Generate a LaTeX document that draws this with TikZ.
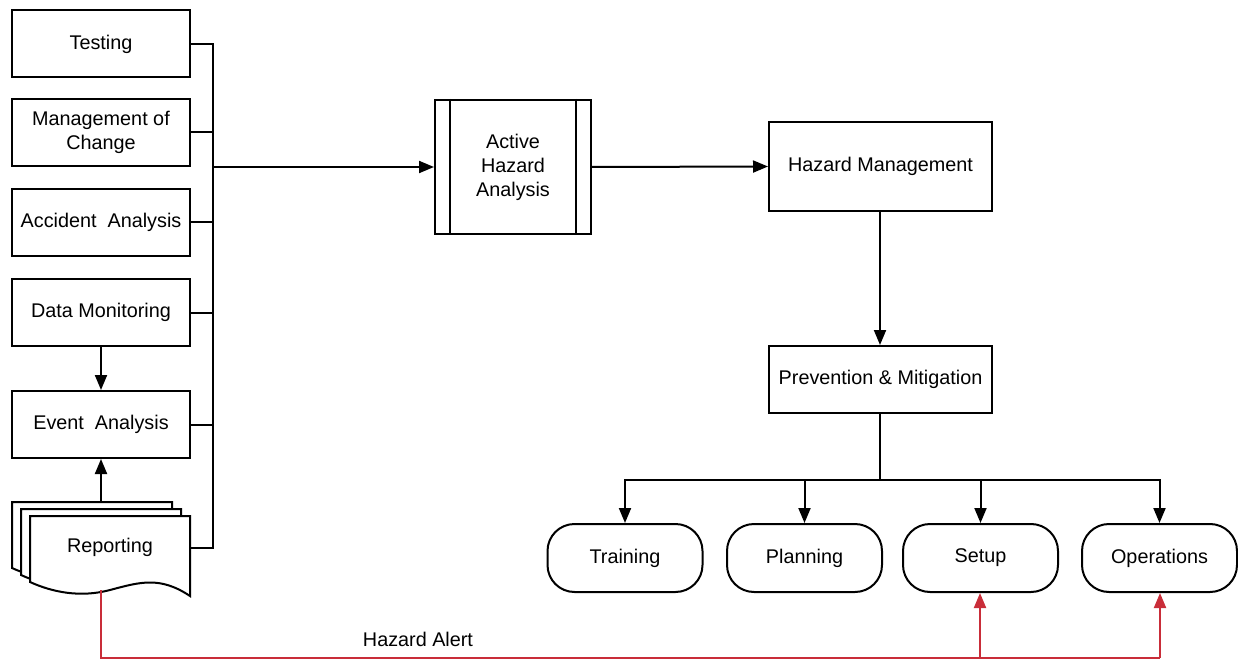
\documentclass[tikz,border=0pt]{standalone}
\usepackage{fontspec}
\setmainfont{Liberation Sans}
\usetikzlibrary{arrows.meta}
\definecolor{alertred}{RGB}{201,45,57}
\tikzset{
  every node/.style={font=\fontsize{19.8}{24}\selectfont},
  box/.style={draw, line width=2pt, fill=white, align=center, inner sep=0pt},
  lbox/.style={box, minimum width=178pt, minimum height=67pt},
  term/.style={draw, line width=2pt, rounded corners=27pt, minimum width=155pt, minimum height=68pt, inner sep=0pt},
  conn/.style={line width=2pt},
  arr/.style={conn, -{Triangle[length=15pt,width=12pt]}},
  redarr/.style={line width=2pt, draw=alertred, -{Triangle[length=15pt,width=12pt]}},
}
\newcommand{\docshape}[2]{%
  \draw[line width=2pt, fill=white] (#1,#2) -- ++(160,0) -- ++(0,80)
    .. controls ++(-30,-20) and ++(30,-8) .. ++(-80,-6)
    .. controls ++(-30,8) and ++(22,10) .. ++(-80,-8) -- cycle;}
\begin{document}
\begin{tikzpicture}[x=1pt,y=-1pt]
\useasboundingbox (0,0) rectangle (1238,660);
% left column
\node[lbox] (test) at (101,44) {Testing};
\node[lbox] (moc) at (101,132.5) {Management of\\Change};
\node[lbox] (acc) at (101,222.5) {Accident~ Analysis};
\node[lbox] (dm) at (101,312.5) {Data Monitoring};
\node[lbox] (ev) at (101,424.5) {Event~ Analysis};
% reporting multi-document
\docshape{12}{502}
\docshape{21}{509}
\docshape{30}{516}
\node (rep) at (110,547) {Reporting};
\coordinate (reptop) at (101,502);
\coordinate (repright) at (190,548);
\coordinate (repbot) at (101,590);
% bus
\coordinate (bustop) at (213,44);
\coordinate (busbot) at (213,548);
\coordinate (busmid) at (213,167);
\draw[conn] (test.east) -- (bustop) -- (busbot) -- (repright);
\draw[conn] (moc.east) -- (moc.east -| bustop);
\draw[conn] (acc.east) -- (acc.east -| bustop);
\draw[conn] (dm.east) -- (dm.east -| bustop);
\draw[conn] (ev.east) -- (ev.east -| bustop);
\draw[arr] (dm.south) -- (ev.north);
\draw[arr] (reptop) -- (ev.south);
% active hazard analysis
\node[box, minimum width=156pt, minimum height=134pt] (aha) at (513,167) {Active\\Hazard\\Analysis};
\draw[conn] ([xshift=16pt]aha.north west) -- ([xshift=16pt]aha.south west);
\draw[conn] ([xshift=-16pt]aha.north east) -- ([xshift=-16pt]aha.south east);
\draw[arr] (busmid) -- (aha.west);
% hazard management
\node[box, minimum width=223pt, minimum height=89pt] (hm) at (880.5,166.5) {Hazard Management};
\draw[arr] (aha.east) -- (hm.west);
\node[box, minimum width=223pt, minimum height=67pt] (pm) at (880.5,379.5) {Prevention \& Mitigation};
\draw[arr] (hm.south -| 880,0) -- (pm.north -| 880,0);
% terminals
\node[term] (tr) at (625,558) {Training};
\node[term] (pl) at (804.5,558) {Planning};
\node[term] (su) at (980.5,558) {Setup};
\node[term] (op) at (1159.5,558) {Operations};
\coordinate (split) at (880,480);
\draw[conn] (pm.south -| split) -- (split);
\draw[arr] (split) -| (tr.north);
\draw[arr] (split) -| (pl.north);
\draw[arr] (split) -| (su.north);
\draw[arr] (split) -| (op.north);
% hazard alert
\coordinate (rcorner) at (101,658);
\coordinate (rend) at (1160,658);
\coordinate (rsplit) at (980,658);
\draw[line width=2pt, draw=alertred] (repbot) -- (rcorner) -- (rend);
\draw[redarr] (rend) -- (op.south -| rend);
\draw[redarr] (rsplit) -- (su.south -| rsplit);
\node (ha) at (418,639) {Hazard Alert};
\end{tikzpicture}
\end{document}
